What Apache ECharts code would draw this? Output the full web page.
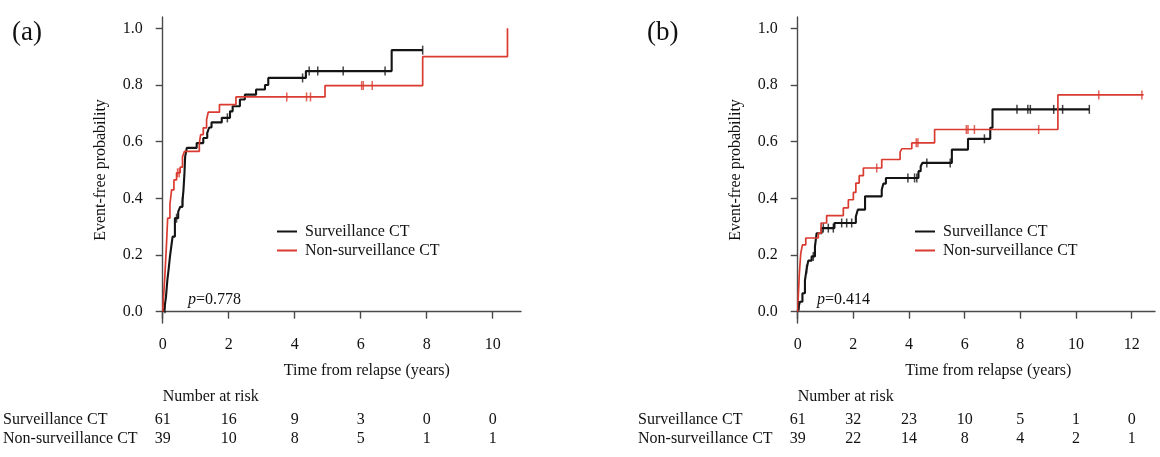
<!DOCTYPE html>
<html>
<head>
<meta charset="utf-8">
<script src="https://cdn.jsdelivr.net/npm/echarts@6/dist/echarts.min.js"></script>
<style>
html,body{margin:0;padding:0;background:#fff;}
#main{width:1160px;height:457px;}
</style>
</head>
<body>
<div id="main"></div>
<script>
// 曲线阶梯点 [时间(年), 概率]
var stepsA_surv = [[0,0],[0.05,0.01],[0.1,0.053],[0.14,0.11],[0.18,0.15],[0.22,0.194],[0.26,0.23],[0.3,0.265],
	[0.37,0.33],[0.47,0.353],[0.53,0.37],[0.6,0.39],[0.63,0.43],[0.66,0.49],[0.68,0.547],[0.73,0.578],
	[1.03,0.595],[1.23,0.613],[1.35,0.631],[1.41,0.65],[1.48,0.668],[1.79,0.684],[2.04,0.707],[2.12,0.725],
	[2.34,0.749],[2.49,0.766],[2.83,0.784],[3.1,0.80],[3.2,0.825],[4.34,0.849],[6.94,0.923],[7.88,0.923]];
var censA_surv = [0.07,0.42,0.6,1.96,4.24,4.44,4.7,5.47,6.74,7.88];

var stepsA_non = [[0,0],[0.02,0.04],[0.07,0.135],[0.12,0.25],[0.15,0.33],[0.22,0.38],[0.27,0.43],[0.34,0.465],
	[0.42,0.49],[0.53,0.51],[0.6,0.547],[0.66,0.566],[1.11,0.595],[1.15,0.625],[1.23,0.649],[1.33,0.678],
	[1.38,0.704],[1.72,0.731],[2.22,0.758],[4.92,0.798],[7.88,0.9],[10.45,1.0]];
var censA_non = [0.45,0.5,3.76,4.36,4.48,6.03,6.08,6.35];

var stepsB_surv = [[0,0],[0.04,0.02],[0.08,0.035],[0.17,0.065],[0.26,0.11],[0.32,0.15],[0.38,0.18],[0.5,0.195],
	[0.62,0.23],[0.68,0.277],[0.86,0.295],[1.32,0.313],[2.09,0.336],[2.16,0.36],[2.42,0.407],[3.02,0.43],
	[3.08,0.452],[3.17,0.472],[4.34,0.496],[4.42,0.513],[4.48,0.525],[5.54,0.572],[6.12,0.61],[6.92,0.649],
	[7.0,0.714],[10.48,0.714]];
var censB_surv = [0.05,0.32,0.56,0.92,1.1,1.28,1.58,1.76,1.94,3.96,4.2,4.28,4.64,5.48,6.71,7.88,8.27,8.36,9.2,9.52,10.48];

var stepsB_non = [[0,0],[0.02,0.053],[0.06,0.136],[0.11,0.206],[0.17,0.236],[0.29,0.26],[0.74,0.277],[0.84,0.313],
	[1.04,0.339],[1.64,0.366],[1.82,0.395],[2.0,0.421],[2.09,0.454],[2.21,0.48],[2.36,0.507],[3.02,0.537],
	[3.68,0.563],[3.74,0.575],[4.1,0.596],[4.92,0.643],[9.35,0.765],[12.43,0.765]];
var censB_non = [2.84,4.26,4.32,6.06,6.12,6.35,8.66,10.82,12.37];

// 风险人数表
var riskTimesA = [0,2,4,6,8,10];
var riskSurvA = [61,16,9,3,0,0];
var riskNonA = [39,10,8,5,1,1];
var riskTimesB = [0,2,4,6,8,10,12];
var riskSurvB = [61,32,23,10,5,1,0];
var riskNonB = [39,22,14,8,4,2,1];

var yTicks = [0,0.2,0.4,0.6,0.8,1.0];
var seriesNames = ['Surveillance CT','Non-surveillance CT'];
var pValues = ['0.778','0.414'];

var FONT = 'Liberation Serif';
var FS = 16;
var BLACK = '#141414';
var RED = '#d93b30';
var AXIS = '#4a4a4a';

// 删失点的y值取自阶梯曲线
function stepAt(steps, t){
	var v = steps[0][1];
	for(var i=0;i<steps.length;i++){
		if(steps[i][0] <= t) v = steps[i][1];
	}
	return v;
}
function censPoints(steps, times){
	var arr = [];
	for(var i=0;i<times.length;i++){
		arr.push([times[i], stepAt(steps, times[i])]);
	}
	return arr;
}

function xAxisOf(idx, max, ticks, namePad){
	return {
		type:'value', gridIndex:idx, min:0, max:max,
		name:'Time from relapse (years)', nameLocation:'middle', nameGap:40,
		nameTextStyle:{fontFamily:FONT, fontSize:FS, color:'#111', padding:[0,0,0,namePad]},
		axisLine:{lineStyle:{color:AXIS, width:1.4}},
		axisTick:{length:7, customValues:ticks, lineStyle:{color:AXIS, width:1.4}},
		axisLabel:{customValues:ticks, margin:14, fontFamily:FONT, fontSize:FS, color:'#111'},
		splitLine:{show:false}
	};
}
function yAxisOf(idx){
	return {
		type:'value', gridIndex:idx, min:-0.04, max:1.04,
		name:'Event-free probability', nameLocation:'middle', nameGap:54,
		nameTextStyle:{fontFamily:FONT, fontSize:FS, color:'#111'},
		axisLine:{show:true, lineStyle:{color:AXIS, width:1.4}},
		axisTick:{show:true, length:7, customValues:yTicks, lineStyle:{color:AXIS, width:1.4}},
		axisLabel:{customValues:yTicks, margin:20, fontFamily:FONT, fontSize:FS, color:'#111',
			formatter:function(v){ return v.toFixed(1); }},
		splitLine:{show:false}
	};
}
function lineSeries(name, idx, data, color, w){
	return {
		name:name, type:'line', step:'end', xAxisIndex:idx, yAxisIndex:idx,
		data:data, symbol:'none', color:color,
		lineStyle:{color:color, width:w}, itemStyle:{color:color},
		animation:false, z:3
	};
}
function censSeries(idx, data, color){
	return {
		name:'cens', type:'scatter', xAxisIndex:idx, yAxisIndex:idx,
		data:data, symbol:'rect', symbolSize:[1.5,9],
		itemStyle:{color:color}, animation:false, silent:true, z:4
	};
}
function legendOf(left){
	return {
		data:seriesNames, orient:'vertical', left:left, top:223, padding:0,
		icon:'rect', itemWidth:20, itemHeight:2, itemGap:2, selectedMode:false,
		textStyle:{fontFamily:FONT, fontSize:FS, color:'#111', lineHeight:17, padding:[0,0,0,3]}
	};
}

var myChart = echarts.init(document.getElementById('main'));
var option = {
	backgroundColor:'#fff',
	animation:false,
	grid:[
		{left:162.7, top:17, width:358.3, height:306, outerBoundsMode:'none'},
		{left:797.7, top:17, width:357.3, height:306, outerBoundsMode:'none'}
	],
	xAxis:[xAxisOf(0, 10.86, riskTimesA, 50), xAxisOf(1, 12.84, riskTimesB, 24)],
	yAxis:[yAxisOf(0), yAxisOf(1)],
	legend:[legendOf(277), legendOf(915)],
	series:[
		lineSeries(seriesNames[0], 0, stepsA_surv, BLACK, 2.1),
		lineSeries(seriesNames[1], 0, stepsA_non, RED, 1.7),
		censSeries(0, censPoints(stepsA_surv, censA_surv), BLACK),
		censSeries(0, censPoints(stepsA_non, censA_non), RED),
		lineSeries(seriesNames[0], 1, stepsB_surv, BLACK, 2.1),
		lineSeries(seriesNames[1], 1, stepsB_non, RED, 1.7),
		censSeries(1, censPoints(stepsB_surv, censB_surv), BLACK),
		censSeries(1, censPoints(stepsB_non, censB_non), RED)
	]
};
myChart.setOption(option);

// 面板标签、p值和风险人数表
var txt = {fontFamily:FONT, fontSize:FS, fill:'#111'};
function text(x, y, s, extra){
	var st = Object.assign({}, txt, {text:s, x:x, y:y, verticalAlign:'middle'}, extra || {});
	return {type:'text', style:st, silent:true};
}
var g = [];
g.push(text(12, 33, '(a)', {fontSize:27}));
g.push(text(647, 33, '(b)', {fontSize:27}));
g.push({type:'text', silent:true, style:{x:188, y:300, verticalAlign:'middle',
	text:'{i|p}=' + pValues[0], rich:{i:{fontStyle:'italic', fontFamily:FONT, fontSize:FS}},
	fontFamily:FONT, fontSize:FS, fill:'#111'}});
g.push({type:'text', silent:true, style:{x:817, y:300, verticalAlign:'middle',
	text:'{i|p}=' + pValues[1], rich:{i:{fontStyle:'italic', fontFamily:FONT, fontSize:FS}},
	fontFamily:FONT, fontSize:FS, fill:'#111'}});

function riskTable(idx, labelX, times, surv, non){
	var x0 = myChart.convertToPixel({xAxisIndex:idx}, 0);
	g.push(text(x0, 397, 'Number at risk'));
	g.push(text(labelX, 420, seriesNames[0]));
	g.push(text(labelX, 439, seriesNames[1]));
	for(var i=0;i<times.length;i++){
		var px = myChart.convertToPixel({xAxisIndex:idx}, times[i]);
		g.push(text(px, 420, String(surv[i]), {align:'center'}));
		g.push(text(px, 439, String(non[i]), {align:'center'}));
	}
}
riskTable(0, 3, riskTimesA, riskSurvA, riskNonA);
riskTable(1, 638, riskTimesB, riskSurvB, riskNonB);
myChart.setOption({graphic:g});
</script>
</body>
</html>
